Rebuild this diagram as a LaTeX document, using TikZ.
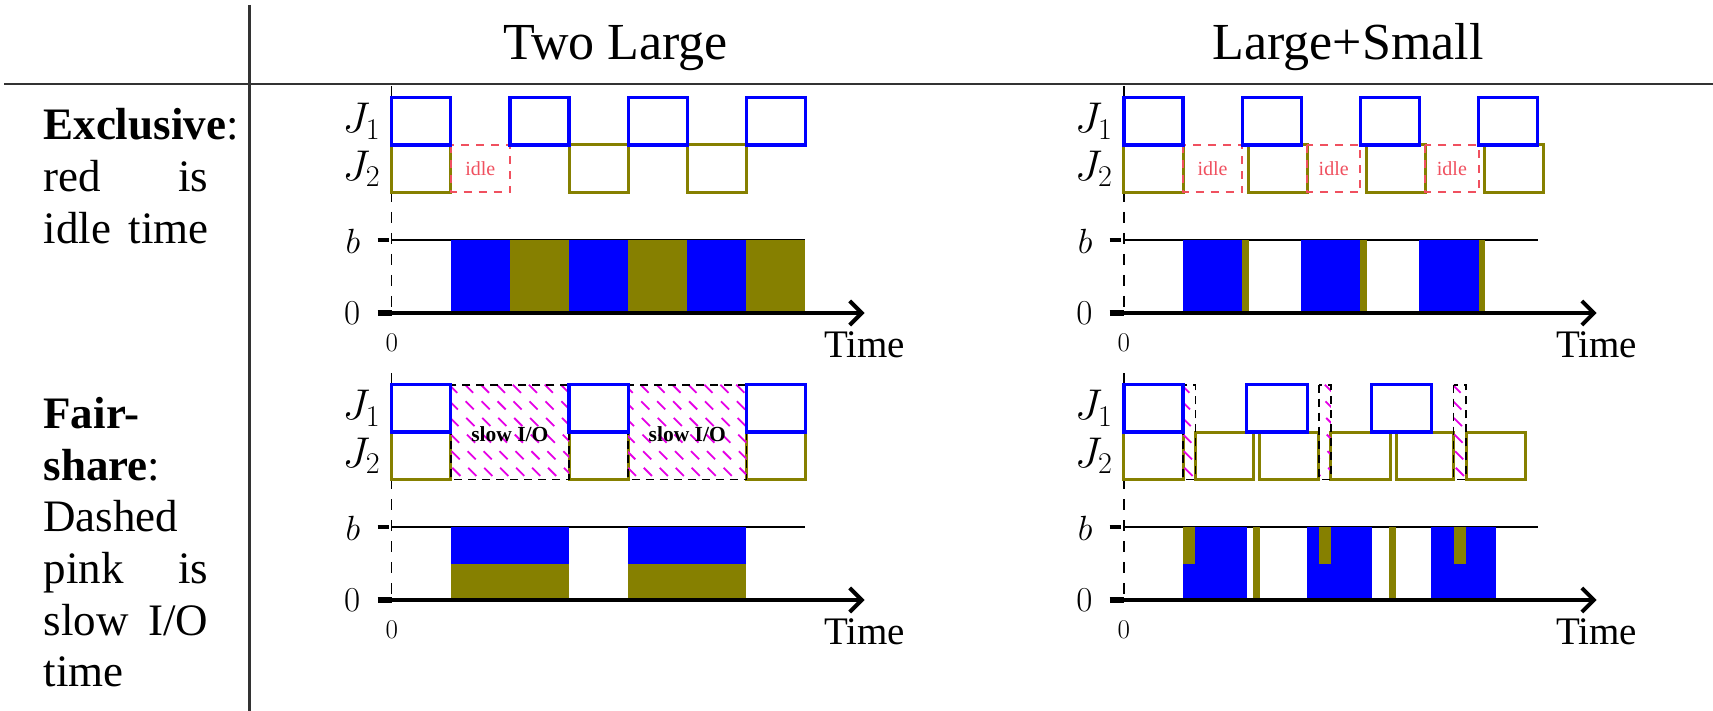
\documentclass[tikz,border=0pt]{standalone}
\usepackage{fix-cm}
\usepackage[no-math]{fontspec}
\setmainfont{Liberation Serif}
\usetikzlibrary{arrows.meta}

\definecolor{jobone}{RGB}{0,0,255}
\definecolor{jobtwo}{RGB}{134,128,0}
\definecolor{idlered}{RGB}{240,80,95}
\definecolor{slowpink}{RGB}{230,0,230}

\tikzset{
  rule/.style={line width=2.6pt, black!80},
  jobA/.style={draw=jobone, line width=3.2pt},
  jobB/.style={draw=jobtwo, line width=3pt},
  idlebox/.style={draw=idlered, line width=2pt, dash pattern=on 8pt off 7pt},
  slowbox/.style={draw=black, line width=1.6pt, dash pattern=on 8pt off 6pt},
  hatch/.style={draw=slowpink, line width=1.8pt, dash pattern=on 11.5pt off 12pt},
  axisdash/.style={draw=black, line width=1.4pt, dash pattern=on 11pt off 10pt},
  bline/.style={draw=black, line width=1.5pt},
  timeaxis/.style={draw=black, line width=4pt, -{Straight Barb[length=12pt,width=24pt]}},
  headtext/.style={font=\fontsize{52}{60}\selectfont, anchor=base, inner sep=0pt},
  sidetext/.style={font=\fontsize{45}{52}\selectfont, anchor=base west, inner sep=0pt},
  joblabel/.style={font=\fontsize{43}{50}\selectfont, anchor=east, inner sep=0pt},
  ylabel/.style={font=\fontsize{35}{42}\selectfont, anchor=east, inner sep=0pt},
  originlabel/.style={font=\fontsize{27}{32}\selectfont, inner sep=0pt},
  timelabel/.style={font=\fontsize{39}{46}\selectfont, anchor=base, inner sep=0pt},
  idletext/.style={font=\fontsize{20}{24}\selectfont, text=idlered, inner sep=0pt},
  slowtext/.style={font=\bfseries\fontsize{21.5}{24}\selectfont, inner sep=0pt},
}

% dashed axis at t=0 and the thin bandwidth-limit line b
\newcommand\chartbase{%
  \draw[axisdash] (0,86) -- (0,313);
  \draw[bline] (0,240) -- (7,240);
}
% time axis, ticks and labels of one chart; #1 prefixes the node names
\newcommand\chartlabels[1]{%
  \draw[line width=4pt] (-0.24,240) -- (-0.05,240);
  \draw[line width=6pt] (-0.24,313) -- (0,313);
  \draw[timeaxis] (-0.1,313) -- (8,313);
  \node[joblabel] (#1J1) at (-0.19,121.3) {$J_1$};
  \node[joblabel] (#1J2) at (-0.19,168.7) {$J_2$};
  \node[ylabel] (#1b) at (-0.53,241) {$b$};
  \node[ylabel] (#1zero) at (-0.53,313) {$0$};
  \node[originlabel] (#1orig) at (0,343) {$0$};
  \node[timelabel] (#1time) at (8,357) {Time};
}
% hatched slow-I/O span over both job rows
\newcommand\slowio[2]{%
  \begin{scope}
    \clip (#1,97.7) rectangle (#2,192.3);
    \foreach \s in {-2,-1.73,...,8}
      \draw[hatch] (\s,97.7) -- (\s+1.6,192.3);
  \end{scope}
  \draw[slowbox] (#1,97.7) rectangle (#2,192.3);
}

\begin{document}
\begin{tikzpicture}[x=1pt, y=-1pt]
\fill[white] (0,0) rectangle (1713,711);
\useasboundingbox (0,0) rectangle (1713,711);

% table rules and headings
\draw[rule] (249.3,5) -- (249.3,711);
\draw[rule] (4,84) -- (1713,84);
\node[headtext] (hTwo) at (615.5,60) {Two Large};
\node[headtext] (hMix) at (1348,60) {Large+Small};

% row captions
\node[sidetext] (ex1) at (43.3,140) {\textbf{Exclusive}:};
\node[sidetext] (ex2) at (43.3,191.7) {\makebox[165pt][s]{red is}};
\node[sidetext] (ex3) at (43.3,243.3) {\makebox[165pt][s]{idle time}};
\node[sidetext] (fs1) at (43.3,428.3) {\textbf{Fair-}};
\node[sidetext] (fs2) at (43.3,480) {\textbf{share}:};
\node[sidetext] (fs3) at (43.3,531.7) {Dashed};
\node[sidetext] (fs4) at (43.3,583.3) {\makebox[165pt][s]{pink is}};
\node[sidetext] (fs5) at (43.3,635) {\makebox[165pt][s]{slow I/O}};
\node[sidetext] (fs6) at (43.3,686.7) {time};

% exclusive, two large jobs
\begin{scope}[shift={(391.7pt,0pt)}, x=59.1pt]
  \chartbase
  \foreach \a in {1,3,5} \fill[jobone] (\a,240) rectangle (\a+1,313);
  \foreach \a in {2,4,6} \fill[jobtwo] (\a,240) rectangle (\a+1,313);
  \foreach \a in {0,3,5} \draw[jobB] (\a,145) rectangle (\a+1,192.3);
  \draw[idlebox] (1,145) rectangle (2,192.3);
  \node[idletext] (tlIdle) at (1.5,168.7) {idle};
  \foreach \a in {0,2,4,6} \draw[jobA] (\a,97.7) rectangle (\a+1,145);
  \chartlabels{tl}
\end{scope}

% exclusive, large + small job
\begin{scope}[shift={(1123.9pt,0pt)}, x=59.1pt]
  \chartbase
  \foreach \a in {1,3,5} \fill[jobone] (\a,240) rectangle (\a+1,313);
  \foreach \a in {2,4,6} \fill[jobtwo] (\a,240) rectangle (\a+0.11,313);
  \draw[jobB] (0,145) rectangle (1,192.3);
  \foreach \a in {2.1,4.1,6.1} \draw[jobB] (\a,145) rectangle (\a+1,192.3);
  \draw[idlebox] (1,145) rectangle (2,192.3);
  \draw[idlebox] (3.1,145) rectangle (4,192.3);
  \draw[idlebox] (5.1,145) rectangle (6,192.3);
  \node[idletext] (trIdleA) at (1.5,168.7) {idle};
  \node[idletext] (trIdleB) at (3.55,168.7) {idle};
  \node[idletext] (trIdleC) at (5.55,168.7) {idle};
  \foreach \a in {0,2,4,6} \draw[jobA] (\a,97.7) rectangle (\a+1,145);
  \chartlabels{tr}
\end{scope}

% fair-share, two large jobs
\begin{scope}[shift={(391.7pt,-287pt)}, x=59.1pt]
  \chartbase
  \foreach \a in {1,4} {
    \fill[jobtwo] (\a,276.5) rectangle (\a+2,313);
    \fill[jobone] (\a,240) rectangle (\a+2,276.5);
  }
  \foreach \a in {0,3,6} \draw[jobB] (\a,145) rectangle (\a+1,192.3);
  \slowio{1}{3}
  \slowio{4}{6}
  \node[slowtext] (blSlowA) at (2,147) {slow I/O};
  \node[slowtext] (blSlowB) at (5,147) {slow I/O};
  \foreach \a in {0,3,6} \draw[jobA] (\a,97.7) rectangle (\a+1,145);
  \chartlabels{bl}
\end{scope}

% fair-share, large + small job
\begin{scope}[shift={(1123.9pt,-287pt)}, x=59.1pt]
  \chartbase
  \fill[jobone] (1,240) rectangle (2.08,313);
  \fill[jobone] (3.1,240) rectangle (4.19,313);
  \fill[jobone] (5.2,240) rectangle (6.29,313);
  \fill[jobtwo] (1,240) rectangle (1.21,276.5);
  \fill[jobtwo] (3.3,240) rectangle (3.5,276.5);
  \fill[jobtwo] (5.58,240) rectangle (5.79,276.5);
  \fill[jobtwo] (2.18,240) rectangle (2.3,313);
  \fill[jobtwo] (4.49,240) rectangle (4.61,313);
  \draw[jobB] (0,145) rectangle (1,192.3);
  \draw[jobB] (1.21,145) rectangle (2.19,192.3);
  \draw[jobB] (2.29,145) rectangle (3.3,192.3);
  \draw[jobB] (3.5,145) rectangle (4.51,192.3);
  \draw[jobB] (4.61,145) rectangle (5.58,192.3);
  \draw[jobB] (5.79,145) rectangle (6.8,192.3);
  \slowio{1}{1.21}
  \slowio{3.3}{3.5}
  \slowio{5.58}{5.79}
  \draw[jobA] (0,97.7) rectangle (1,145);
  \draw[jobA] (2.08,97.7) rectangle (3.1,145);
  \draw[jobA] (4.19,97.7) rectangle (5.2,145);
  \chartlabels{br}
\end{scope}
\end{tikzpicture}
\end{document}
